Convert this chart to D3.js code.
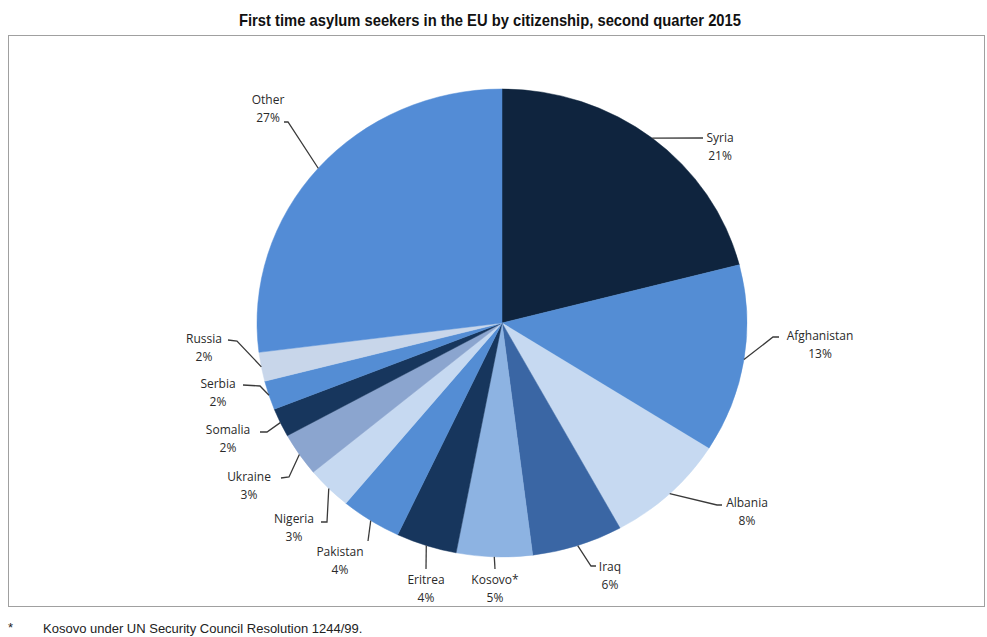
<!DOCTYPE html>
<html lang="en">
<head>
  <meta charset="UTF-8" />
  <title>First time asylum seekers in the EU by citizenship, second quarter 2015</title>
  <style>
    body { margin: 0; background: #fff; overflow: hidden; }
    svg { position: absolute; top: 0; left: 0; }
    .title { font-family: "Liberation Sans", Arial, sans-serif; font-weight: bold; font-size: 17px; fill: #111; }
    .label { font-family: "Open Sans", "DejaVu Sans", sans-serif; font-size: 12px; fill: #2a2a2a; }
    .leader { fill: none; stroke: #3a3a3a; stroke-width: 1.3px; }
    .note { font-family: "Liberation Sans", Arial, sans-serif; font-size: 13px; fill: #222; }
  </style>
</head>
<body>
<svg id="chart"></svg>
<script src="https://cdn.jsdelivr.net/npm/d3@7"></script>
<script>
// ----------------------------------
// 1) Data
// ----------------------------------
const countries = ["Syria", "Afghanistan", "Albania", "Iraq", "Kosovo*", "Eritrea", "Pakistan",
                   "Nigeria", "Ukraine", "Somalia", "Serbia", "Russia", "Other"];
const shares = [21, 13, 8, 6, 5, 4, 4, 3, 3, 2, 2, 2, 27];
const sliceColors = ["#0f243e", "#548dd4", "#c6d9f1", "#3a66a4", "#8db3e2", "#17365d", "#548dd4",
                     "#c6d9f1", "#8ba5cf", "#17365d", "#548dd4", "#c8d6ea", "#538cd6"];

// label layout (relative to pie centre): label centre, elbow and end of leader
const labelLayout = {
  "Syria":       { lx: 218,  ly: -185, elbow: null,        end: [201, -185] },
  "Afghanistan": { lx: 318,  ly: 13,   elbow: [271, 14],   end: [277, 14] },
  "Albania":     { lx: 245,  ly: 180,  elbow: [215, 182],  end: [220, 182] },
  "Iraq":        { lx: 108,  ly: 244,  elbow: [89, 243],   end: [94, 243] },
  "Kosovo*":     { lx: -7,   ly: 257,  elbow: null,        end: [-7, 246] },
  "Eritrea":     { lx: -76,  ly: 257,  elbow: null,        end: [-76, 246] },
  "Pakistan":    { lx: -162, ly: 229,  elbow: null,        end: [-134, 218] },
  "Nigeria":     { lx: -208, ly: 196,  elbow: [-175, 199], end: [-181, 199] },
  "Ukraine":     { lx: -253, ly: 154,  elbow: [-213, 154], end: [-221, 155] },
  "Somalia":     { lx: -274, ly: 107,  elbow: [-235, 109], end: [-242, 109] },
  "Serbia":      { lx: -284, ly: 61,   elbow: [-242, 63],  end: [-259, 62] },
  "Russia":      { lx: -298, ly: 16,   elbow: [-265, 18],  end: [-274, 17] },
  "Other":       { lx: -234, ly: -223, elbow: [-214, -201], end: [-218, -201] }
};

// ----------------------------------
// 2) Setup
// ----------------------------------
const width = 987, height = 637;
const cx = 502, cy = 323;
const rx = 245, ry = 234;

const svg = d3.select("#chart").attr("width", width).attr("height", height);

// the original title is a narrow bold face, so squeeze it to the same width
svg.append("text")
  .attr("class", "title")
  .attr("x", 490)
  .attr("y", 26)
  .attr("text-anchor", "middle")
  .attr("textLength", 502)
  .attr("lengthAdjust", "spacingAndGlyphs")
  .text("First time asylum seekers in the EU by citizenship, second quarter 2015");

// frame
svg.append("rect")
  .attr("x", 8.5).attr("y", 35.5)
  .attr("width", 976).attr("height", 571)
  .attr("fill", "none")
  .attr("stroke", "#a0a0a0")
  .attr("stroke-width", 1);

// ----------------------------------
// 3) Pie (slightly squashed vertically, like the original)
// ----------------------------------
const data = countries.map((c, i) => ({ name: c, value: shares[i], color: sliceColors[i] }));

const pie = d3.pie().sort(null).value(d => d.value);
const arcs = pie(data);
const arc = d3.arc().innerRadius(0).outerRadius(rx);

const pieG = svg.append("g")
  .attr("transform", `translate(${cx},${cy}) scale(1,${ry / rx})`);

pieG.selectAll("path")
  .data(arcs)
  .enter()
  .append("path")
  .attr("d", arc)
  .attr("fill", d => d.data.color)
  .attr("stroke", d => d.data.color)
  .attr("stroke-width", 0.5);

// ----------------------------------
// 4) Labels and leader lines
// ----------------------------------
const labelG = svg.append("g").attr("transform", `translate(${cx},${cy})`);

arcs.forEach(d => {
  const lay = labelLayout[d.data.name];
  const mid = (d.startAngle + d.endAngle) / 2;
  const start = [rx * Math.sin(mid), -ry * Math.cos(mid)];
  const pts = [start];
  if (lay.elbow) pts.push(lay.elbow);
  pts.push(lay.end);

  labelG.append("path")
    .attr("class", "leader")
    .attr("d", d3.line()(pts));

  const t = labelG.append("text")
    .attr("class", "label")
    .attr("text-anchor", "middle");
  t.append("tspan")
    .attr("x", lay.lx).attr("y", lay.ly).attr("dy", "0.35em")
    .text(d.data.name);
  t.append("tspan")
    .attr("x", lay.lx).attr("y", lay.ly + 18).attr("dy", "0.35em")
    .text(d.data.value + "%");
});

// ----------------------------------
// 5) Footnote
// ----------------------------------
svg.append("text")
  .attr("class", "note")
  .attr("x", 8).attr("y", 632)
  .text("*");
svg.append("text")
  .attr("class", "note")
  .attr("x", 43).attr("y", 633)
  .text("Kosovo under UN Security Council Resolution 1244/99.");
</script>
</body>
</html>
